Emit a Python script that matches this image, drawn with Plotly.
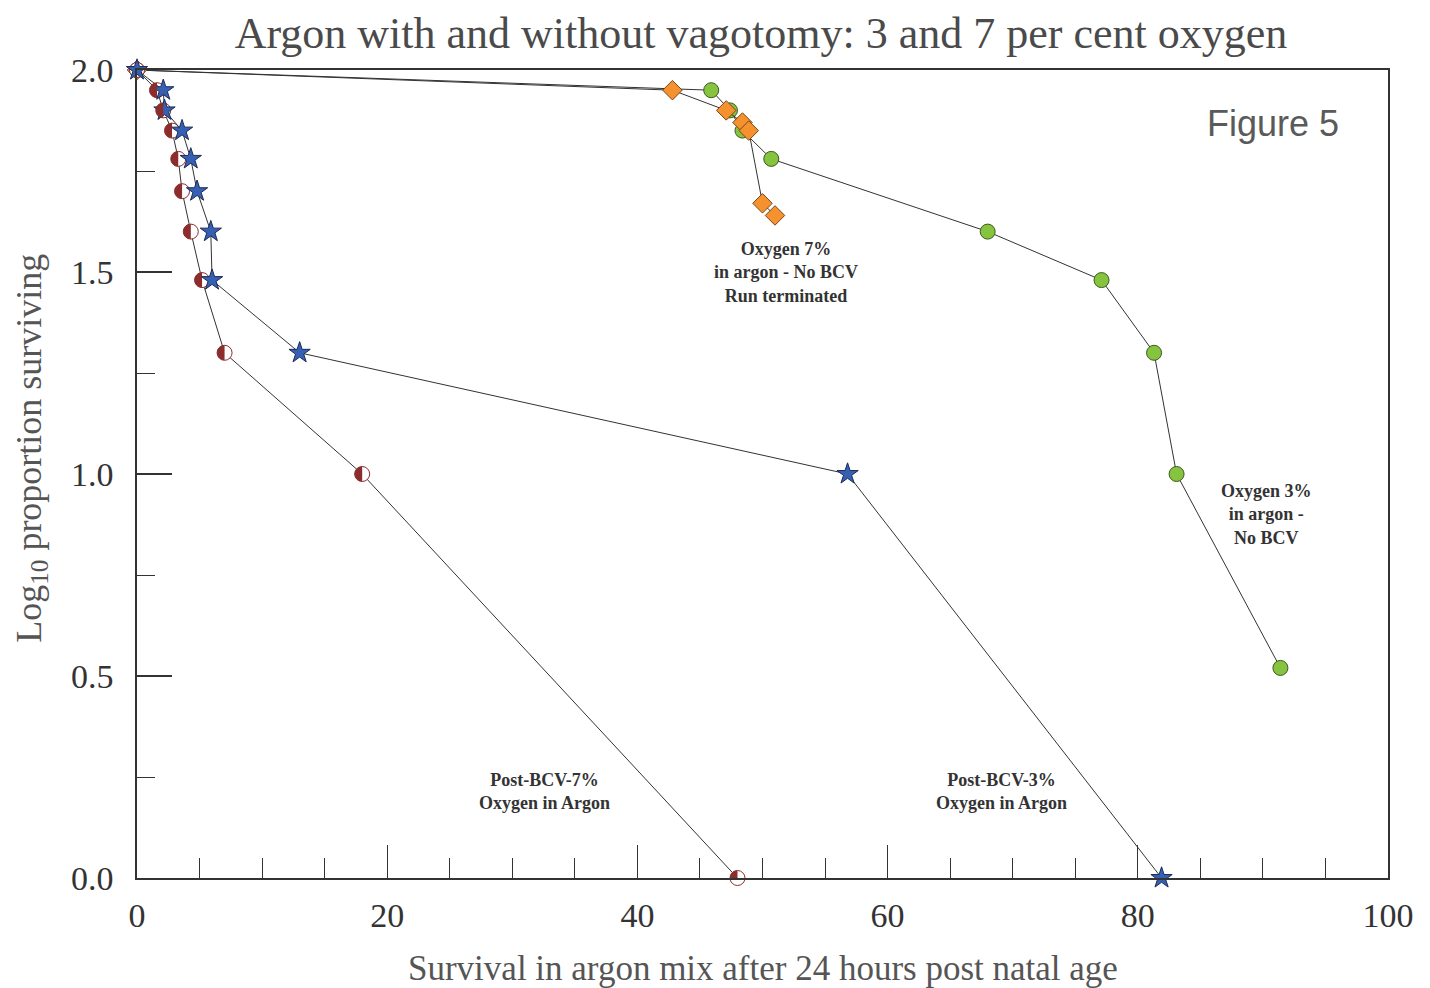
import plotly.graph_objects as go

# Post-BCV-3% oxygen in argon (blue stars)
bcv3_x = [0, 2.1, 2.2, 3.6, 4.3, 4.8, 5.9, 6.0, 13.0, 56.8, 81.9]
bcv3_y = [2.0, 1.95, 1.90, 1.85, 1.78, 1.70, 1.60, 1.48, 1.30, 1.00, 0.0]

# Post-BCV-7% oxygen in argon (half-filled circles)
bcv7_x = [0, 1.6, 2.1, 2.8, 3.3, 3.6, 4.3, 5.2, 7.0, 18.0, 48.0]
bcv7_y = [2.0, 1.95, 1.90, 1.85, 1.78, 1.70, 1.60, 1.48, 1.30, 1.00, 0.0]

# Oxygen 3% in argon - No BCV (green circles)
o3_x = [0, 45.9, 47.4, 48.4, 50.7, 68.0, 77.1, 81.3, 83.1, 91.4]
o3_y = [2.0, 1.95, 1.90, 1.85, 1.78, 1.60, 1.48, 1.30, 1.00, 0.52]

# Oxygen 7% in argon - No BCV, run terminated (orange diamonds)
o7_x = [0, 42.8, 47.1, 48.4, 48.9, 50.0, 51.0]
o7_y = [2.0, 1.95, 1.90, 1.87, 1.85, 1.67, 1.64]

x_ticks = [0, 20, 40, 60, 80, 100]
y_ticks = [0.0, 0.5, 1.0, 1.5, 2.0]

line_col = "#333333"
serif = "Liberation Serif, Times New Roman, serif"
red = "#8b2d2d"

fig = go.Figure()

fig.add_trace(go.Scatter(
    x=o3_x, y=o3_y, mode="lines+markers",
    line=dict(color=line_col, width=1),
    marker=dict(symbol="circle", size=15, color="#86c440",
                line=dict(color="#3d5a1e", width=1)),
    cliponaxis=False, showlegend=False))

fig.add_trace(go.Scatter(
    x=o7_x, y=o7_y, mode="lines+markers",
    line=dict(color=line_col, width=1),
    marker=dict(symbol="diamond", size=15, color="#f5922f",
                line=dict(color="#7a4515", width=1)),
    cliponaxis=False, showlegend=False))

fig.add_trace(go.Scatter(
    x=bcv7_x, y=bcv7_y, mode="lines+markers",
    line=dict(color=line_col, width=1),
    marker=dict(symbol="circle", size=15, color="#ffffff",
                line=dict(color=red, width=1)),
    cliponaxis=False, showlegend=False))

# left half fill of the half-filled circle markers (pixel-sized, anchored at data points)
r = 7.5
k = 0.5523 * r
half_path = (f"M0,{r} C{-k},{r} {-r},{k} {-r},0 "
             f"C{-r},{-k} {-k},{-r} 0,{-r} Z")
for xv, yv in zip(bcv7_x, bcv7_y):
    fig.add_shape(type="path", xref="x", yref="y",
                  xsizemode="pixel", ysizemode="pixel",
                  xanchor=xv, yanchor=yv, path=half_path,
                  fillcolor=red, line=dict(width=0), layer="above")

fig.add_trace(go.Scatter(
    x=bcv3_x, y=bcv3_y, mode="lines+markers",
    line=dict(color=line_col, width=1),
    marker=dict(symbol="star", size=16, color="#3560b3",
                line=dict(color="#1c2a55", width=1)),
    cliponaxis=False, showlegend=False))

ann_font = dict(family=serif, size=18, color="#333333")
annotations = [
    dict(x=51.9, y=1.50, text="<b>Oxygen 7%<br>in argon - No BCV<br>Run terminated</b>"),
    dict(x=90.3, y=0.90, text="<b>Oxygen 3%<br>in argon -<br>No BCV</b>"),
    dict(x=32.6, y=0.213, text="<b>Post-BCV-7%<br>Oxygen in Argon</b>"),
    dict(x=69.1, y=0.213, text="<b>Post-BCV-3%<br>Oxygen in Argon</b>"),
]
for a in annotations:
    fig.add_annotation(x=a["x"], y=a["y"], xref="x", yref="y", text=a["text"],
                       showarrow=False, font=ann_font, align="center",
                       xanchor="center", yanchor="middle")

fig.add_annotation(x=0.908, y=0.934, xref="paper", yref="paper", text="Figure 5",
                   xanchor="center", yanchor="middle", showarrow=False,
                   font=dict(family="Liberation Sans, Arial, sans-serif",
                             size=36, color="#5a5a5a"))

# axis titles as annotations (positions matched to the original)
fig.add_annotation(x=-0.085, y=0.532, xref="paper", yref="paper",
                   text="Log<sub>10</sub> proportion surviving", textangle=-90,
                   xanchor="center", yanchor="middle", showarrow=False,
                   font=dict(family=serif, size=36, color="#555"))
fig.add_annotation(x=0.5004, y=-0.1114, xref="paper", yref="paper",
                   text="Survival in argon mix after 24 hours post natal age",
                   xanchor="center", yanchor="middle", showarrow=False,
                   font=dict(family=serif, size=35, color="#555"))

fig.update_layout(
    width=1422, height=980,
    paper_bgcolor="white", plot_bgcolor="white",
    margin=dict(l=129, r=42, t=62, b=110, autoexpand=False),
    title=dict(text="Argon with and without vagotomy: 3 and 7 per cent oxygen",
               x=0.5295, xanchor="center", y=0.975, yanchor="middle",
               font=dict(family=serif, size=44, color="#4a4a4a")),
    xaxis=dict(range=[0, 100], tickvals=x_ticks, ticktext=[str(v) for v in x_ticks],
               ticks="inside", ticklen=33, tickwidth=1.2, tickcolor="#333",
               minor=dict(dtick=5, ticks="inside", ticklen=20, tickwidth=1, tickcolor="#333"),
               showgrid=False, zeroline=False, automargin=False,
               showline=True, linecolor="#333", linewidth=1.5, mirror=True,
               tickfont=dict(family=serif, size=34, color="#333"),
               ticklabelstandoff=6),
    yaxis=dict(range=[0, 2], tickvals=y_ticks, ticktext=[f"{v:.1f}" for v in y_ticks],
               ticks="inside", ticklen=35, tickwidth=1.5, tickcolor="#333",
               minor=dict(dtick=0.25, ticks="inside", ticklen=18, tickwidth=1, tickcolor="#333"),
               showgrid=False, zeroline=False, automargin=False,
               showline=True, linecolor="#333", linewidth=1.5, mirror=True,
               tickfont=dict(family=serif, size=34, color="#333"),
               ticklabelstandoff=15),
)

fig.write_html("out.html")
